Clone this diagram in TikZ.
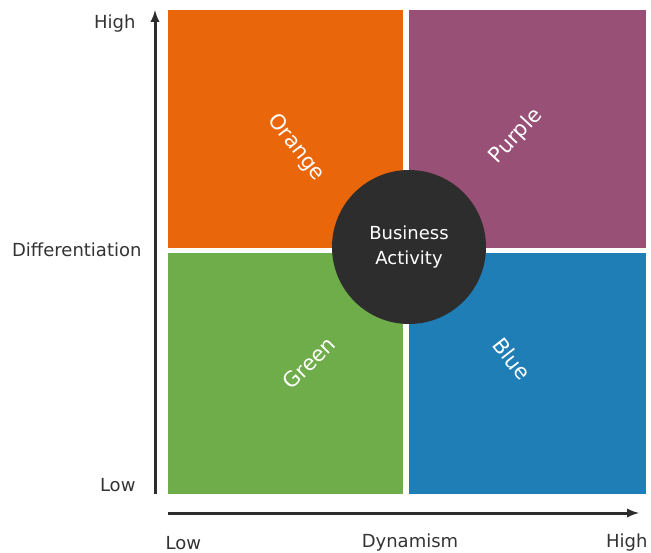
\documentclass[tikz,border=0pt]{standalone}
\usepackage{fontspec}
\setmainfont{DejaVu Sans}
\usetikzlibrary{arrows}

\definecolor{qorange}{RGB}{234,102,10}
\definecolor{qpurple}{RGB}{152,80,118}
\definecolor{qgreen}{RGB}{110,173,74}
\definecolor{qblue}{RGB}{31,126,182}
\definecolor{qdark}{RGB}{45,45,45}
\definecolor{qtext}{RGB}{51,51,51}

\tikzset{
  axislabel/.style={text=qtext, font=\fontsize{18}{21}\selectfont},
  quadlabel/.style={text=white, font=\fontsize{21}{24}\selectfont}
}

\begin{document}
\begin{tikzpicture}[x=1pt, y=-1pt]
            \useasboundingbox (0,0) rectangle (651,553);

            \coordinate (O) at (155,494);
            \coordinate (Ytop) at (155,10);
            \coordinate (Xstart) at (168,513);
            \coordinate (Xend) at (639,513);

            % the four quadrants
            \fill[qorange] (168,10) rectangle (403,248);
            \fill[qpurple] (409,10) rectangle (646,248);
            \fill[qgreen] (168,253) rectangle (403,494);
            \fill[qblue] (409,253) rectangle (646,494);

            \node[quadlabel, rotate=-52] (orange) at (296,148) {Orange};
            \node[quadlabel, rotate=47] (purple) at (516,136) {Purple};
            \node[quadlabel, rotate=45] (green) at (309,363) {Green};
            \node[quadlabel, rotate=-52] (blue) at (512,359) {Blue};

            \node[circle, fill=qdark, minimum size=154pt, inner sep=0pt, text=white,
                  align=center, font=\fontsize{18}{25}\selectfont] (core) at (409,247) {Business\\Activity};

            % axes
            \draw[line width=3pt, qdark, -latex] (O) -- (Ytop);
            \draw[line width=3pt, qdark, -latex] (Xstart) -- (Xend);

            \node[axislabel, anchor=east] (yhigh) at (139,24) {High};
            \node[axislabel, anchor=east] (ymid) at (145,250) {Differentiation};
            \node[axislabel, anchor=east] (ylow) at (139,485) {Low};
            \node[axislabel, anchor=west] (xlow) at (162,543) {Low};
            \node[axislabel] (xmid) at (410,543) {Dynamism};
            \node[axislabel, anchor=east] (xhigh) at (651,543) {High};
        \end{tikzpicture}
\end{document}
